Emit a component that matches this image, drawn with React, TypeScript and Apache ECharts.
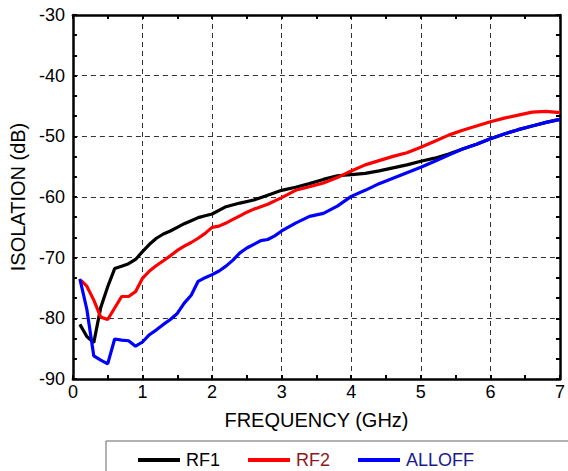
import React, { useEffect, useRef } from "react";
import * as echarts from "echarts";

const rf1Freq = [0.1, 0.2, 0.3, 0.4, 0.5, 0.6, 0.7, 0.8, 0.9, 1.0, 1.1, 1.2, 1.3, 1.4, 1.5, 1.6, 1.7, 1.8, 1.9, 2.0, 2.2, 2.4, 2.6, 2.8, 3.0, 3.2, 3.4, 3.6, 3.8, 4.0, 4.2, 4.4, 4.6, 4.8, 5.0, 5.2, 5.4, 5.6, 5.8, 6.0, 6.2, 6.4, 6.6, 6.8, 7.0];
const rf1Vals = [-81.0, -83.0, -84.0, -78.2, -74.8, -71.8, -71.4, -71.0, -70.3, -69.0, -67.8, -66.8, -66.1, -65.6, -65.0, -64.4, -63.9, -63.4, -63.1, -62.8, -61.6, -61.0, -60.5, -59.7, -58.9, -58.4, -57.8, -57.1, -56.5, -56.3, -56.1, -55.7, -55.2, -54.7, -54.1, -53.6, -52.9, -52.1, -51.3, -50.4, -49.6, -48.9, -48.3, -47.7, -47.2];

const rf2Freq = [0.12, 0.2, 0.3, 0.4, 0.5, 0.6, 0.7, 0.8, 0.9, 1.0, 1.1, 1.2, 1.3, 1.4, 1.5, 1.6, 1.7, 1.8, 1.9, 2.0, 2.1, 2.2, 2.3, 2.4, 2.5, 2.6, 2.8, 3.0, 3.2, 3.4, 3.6, 3.8, 4.0, 4.2, 4.4, 4.6, 4.8, 5.0, 5.2, 5.4, 5.6, 5.8, 6.0, 6.2, 6.4, 6.6, 6.8, 7.0];
const rf2Vals = [-73.8, -74.7, -77.0, -79.8, -80.2, -78.3, -76.4, -76.4, -75.6, -73.4, -72.2, -71.3, -70.5, -69.7, -68.8, -68.1, -67.5, -66.8, -66.0, -65.0, -64.8, -64.3, -63.7, -63.1, -62.5, -62.0, -61.2, -60.1, -58.9, -58.3, -57.7, -56.8, -55.7, -54.7, -54.0, -53.3, -52.7, -51.8, -50.8, -49.8, -49.0, -48.3, -47.6, -47.0, -46.5, -46.0, -45.9, -46.1];

const alloffFreq = [0.1, 0.2, 0.3, 0.4, 0.5, 0.6, 0.7, 0.8, 0.9, 1.0, 1.1, 1.2, 1.3, 1.4, 1.5, 1.6, 1.7, 1.8, 1.9, 2.0, 2.1, 2.2, 2.3, 2.4, 2.5, 2.6, 2.7, 2.8, 2.9, 3.0, 3.2, 3.4, 3.6, 3.8, 4.0, 4.2, 4.4, 4.6, 4.8, 5.0, 5.2, 5.4, 5.6, 5.8, 6.0, 6.2, 6.4, 6.6, 6.8, 7.0];
const alloffVals = [-73.5, -78.5, -86.2, -86.9, -87.5, -83.4, -83.6, -83.7, -84.6, -83.9, -82.7, -81.9, -81.0, -80.2, -79.2, -77.5, -76.2, -73.9, -73.3, -72.8, -72.2, -71.4, -70.4, -69.2, -68.4, -67.8, -67.2, -67.0, -66.4, -65.6, -64.3, -63.2, -62.7, -61.5, -59.9, -58.9, -57.8, -56.9, -56.0, -55.1, -54.1, -53.1, -52.1, -51.3, -50.4, -49.6, -48.9, -48.3, -47.7, -47.2];

const seriesNames = ["RF1", "RF2", "ALLOFF"];
const lineColors = ["#000000", "#ff0000", "#0000ff"];
const legendTextColors = ["#000000", "#8b1a1a", "#1a1a8b"];

const xTitle = "FREQUENCY (GHz)";
const yTitle = "ISOLATION (dB)";

const FONT = "'Liberation Sans', Arial, sans-serif";

function pairs(xs: number[], ys: number[]) {
  return xs.map((x, i) => [x, ys[i]]);
}

export default function App() {
  const ref = useRef<HTMLDivElement>(null);
  useEffect(() => {
    document.body.style.margin = "0";
    if (!ref.current) return;
    const chart = echarts.init(ref.current, null, { renderer: "svg" });
    const axisLine = { show: true, onZero: false, lineStyle: { color: "#000", width: 2.5 } };
    const xCommon = {
      type: "value" as const,
      min: 0,
      max: 7,
      interval: 1,
      axisLine,
      axisTick: { show: true, inside: true, length: 4, lineStyle: { color: "#000", width: 2 } },
      minorTick: { show: true, splitNumber: 2, length: 4, lineStyle: { color: "#000", width: 2 } },
    };
    const yCommon = {
      type: "value" as const,
      min: -90,
      max: -30,
      interval: 10,
      axisLine,
      axisTick: { show: true, inside: true, length: 4, lineStyle: { color: "#000", width: 2 } },
      minorTick: { show: true, splitNumber: 3, length: 4, lineStyle: { color: "#000", width: 2 } },
    };
    const splitLine = { show: true, lineStyle: { color: "#333", width: 1, type: [5, 4] } };
    const allData = [pairs(rf1Freq, rf1Vals), pairs(rf2Freq, rf2Vals), pairs(alloffFreq, alloffVals)];
    chart.setOption({
      animation: false,
      backgroundColor: "#fff",
      textStyle: { fontFamily: FONT },
      grid: { left: 70, right: 5, top: 15, bottom: 92, containLabel: false },
      xAxis: [
        {
          ...xCommon,
          position: "bottom",
          splitLine,
          axisLabel: { fontSize: 18, color: "#000", margin: 4, fontFamily: FONT },
          name: xTitle,
          nameLocation: "middle",
          nameGap: 31,
          nameTextStyle: { fontSize: 20, color: "#000", fontFamily: FONT },
        },
        {
          ...xCommon,
          position: "top",
          splitLine: { show: false },
          axisLabel: { show: false },
        },
      ],
      yAxis: [
        {
          ...yCommon,
          position: "left",
          splitLine,
          axisLabel: { fontSize: 18, color: "#000", margin: 8, fontFamily: FONT },
          name: yTitle,
          nameLocation: "middle",
          nameGap: 40,
          nameTextStyle: { fontSize: 20, color: "#000", fontFamily: FONT },
        },
        {
          ...yCommon,
          position: "right",
          splitLine: { show: false },
          axisLabel: { show: false },
        },
      ],
      legend: {
        left: 138,
        top: 451,
        padding: 0,
        itemWidth: 42,
        itemHeight: 4,
        itemGap: 28,
        icon: "rect",
        textStyle: { fontSize: 18, fontFamily: FONT, padding: [0, 0, 0, 1] },
        data: seriesNames.map((n, i) => ({ name: n, textStyle: { color: legendTextColors[i] } })),
      },
      graphic: [
        {
          type: "rect",
          shape: { x: 106, y: 441, width: 520, height: 80 },
          style: { fill: "none", stroke: "#666", lineWidth: 1 },
          silent: true,
        },
      ],
      series: seriesNames.map((n, i) => ({
        name: n,
        type: "line",
        xAxisIndex: 0,
        yAxisIndex: 0,
        data: allData[i],
        symbol: "none",
        color: lineColors[i],
        lineStyle: { color: lineColors[i], width: 3.2 },
      })),
    });
    return () => chart.dispose();
  }, []);
  return <div ref={ref} style={{ width: 568, height: 471 }} />;
}
